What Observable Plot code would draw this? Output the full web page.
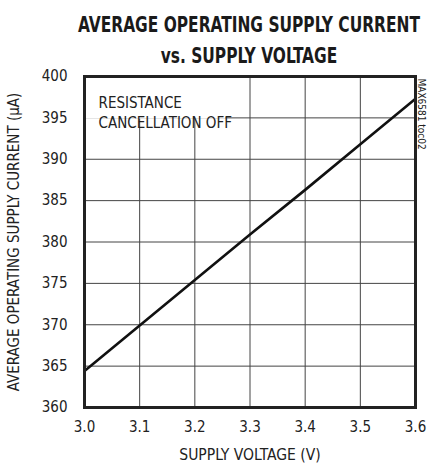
<!DOCTYPE html>
<html>
<head>
<meta charset="utf-8">
<script src="https://cdn.jsdelivr.net/npm/d3@7"></script>
<script src="https://cdn.jsdelivr.net/npm/@observablehq/plot@0.6"></script>
<style>
  html, body { margin: 0; padding: 0; background: #fff; }
  #wrap { position: relative; width: 430px; height: 466px; }
  #title {
    position: absolute; left: 0; width: 498px; top: 0; padding-top: 9px;
    text-align: center; white-space: nowrap;
    font-family: "DejaVu Sans Condensed", "Liberation Sans Narrow", "Liberation Sans", sans-serif;
    font-stretch: condensed;
    font-weight: bold; font-size: 22px; line-height: 31px; color: #1a1a1a;
    transform-origin: 0 0; z-index: 2;
  }
  #title span { display: inline-block; }
</style>
</head>
<body>
<div id="wrap">
  <div id="title"><span id="t1">AVERAGE OPERATING SUPPLY CURRENT</span><br><span id="t2">vs. SUPPLY VOLTAGE</span></div>
  <div id="chart"></div>
</div>
<script>
// Data
const voltage = [3.0, 3.1, 3.2, 3.3, 3.4, 3.5, 3.6];
const current = [364.4, 369.9, 375.4, 380.9, 386.3, 391.8, 397.3];
const xTicks = [3.0, 3.1, 3.2, 3.3, 3.4, 3.5, 3.6];
const yTicks = [360, 365, 370, 375, 380, 385, 390, 395, 400];
const noteText = "RESISTANCE\nCANCELLATION OFF";
const sideText = "MAX6581 toc02";

const data = voltage.map((v, i) => ({v, c: current[i]}));
const font = "'DejaVu Sans Condensed', 'Liberation Sans Narrow', 'Liberation Sans', sans-serif";

const chart = Plot.plot({
  width: 430, height: 466,
  marginLeft: 84, marginRight: 15, marginTop: 76, marginBottom: 59,
  style: {fontFamily: font, fontSize: "15px", color: "#222", background: "white", fontStretch: "condensed"},
  x: {domain: [3.0, 3.6], label: "SUPPLY VOLTAGE (V)"},
  y: {domain: [360, 400], label: "AVERAGE OPERATING SUPPLY CURRENT (µA)"},
  marks: [
    Plot.gridX(xTicks, {stroke: "#444", strokeOpacity: 1, strokeWidth: 1}),
    Plot.gridY(yTicks, {stroke: "#444", strokeOpacity: 1, strokeWidth: 1}),
    Plot.axisX(xTicks, {tickSize: 0, tickPadding: 14, fontSize: 15, tickFormat: d3.format(".1f"),
      label: null}),
    Plot.axisX({label: "SUPPLY VOLTAGE (V)", labelAnchor: "center", labelArrow: "none", labelOffset: 52,
      ticks: [], tickSize: 0, fontSize: 15.5}),
    Plot.axisY(yTicks, {tickSize: 0, tickPadding: 17, fontSize: 15, label: null}),
    Plot.axisY({label: "AVERAGE OPERATING SUPPLY CURRENT (µA)", labelAnchor: "center", labelArrow: "none",
      labelOffset: 76, ticks: [], tickSize: 0, fontSize: 15}),
    Plot.line(data, {x: "v", y: "c", stroke: "#111", strokeWidth: 2.6}),
    Plot.text([noteText], {frameAnchor: "top-left", dx: 14, dy: 17, textAnchor: "start", lineAnchor: "top",
      fontSize: 15, lineHeight: 1.35, fill: "#222", className: "note"}),
    Plot.text([sideText], {frameAnchor: "top-right", rotate: 90, dx: 10, dy: 2, textAnchor: "start",
      fontSize: 10, fill: "#222"}),
    Plot.frame({stroke: "#222", strokeWidth: 3})
  ]
});
document.getElementById("chart").appendChild(chart);

// white backing box behind the note, sized from the rendered text
const noteG = chart.querySelector("g.note");
if (noteG) {
  const bb = noteG.getBBox();
  const ns = "http://www.w3.org/2000/svg";
  const r = document.createElementNS(ns, "rect");
  r.setAttribute("x", bb.x - 10);
  r.setAttribute("y", bb.y - 6);
  r.setAttribute("width", bb.width + 18);
  r.setAttribute("height", bb.height + 10);
  r.setAttribute("fill", "white");
  noteG.parentNode.insertBefore(r, noteG);
}

// fit the title's first line to the reference width (342px, centred at x≈249)
const title = document.getElementById("title");
const w1 = document.getElementById("t1").getBoundingClientRect().width;
const sx = 342 / w1;
const boxW = title.getBoundingClientRect().width;
title.style.transform = `translateX(${249 - (boxW * sx) / 2}px) scaleX(${sx})`;
</script>
</body>
</html>
